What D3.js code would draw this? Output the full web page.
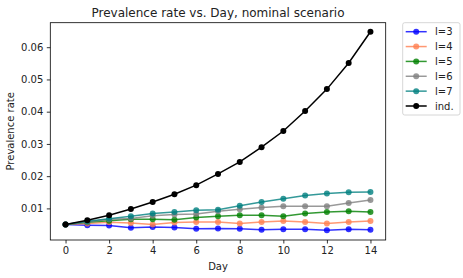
<!DOCTYPE html>
<html>
<head>
<meta charset="utf-8">
<script src="https://cdn.jsdelivr.net/npm/d3@7"></script>
<style>
  body { margin: 0; background: #fff; }
  text { font-family: "DejaVu Sans", sans-serif; fill: #222; }
</style>
</head>
<body>
<script>
var days = [0, 1, 2, 3, 4, 5, 6, 7, 8, 9, 10, 11, 12, 13, 14];
var xTicks = [0, 2, 4, 6, 8, 10, 12, 14];
var yTicks = [0.01, 0.02, 0.03, 0.04, 0.05, 0.06];

var l3 = [0.0050, 0.0048, 0.0047, 0.0040, 0.0042, 0.0041, 0.0037, 0.0038, 0.0037, 0.0034, 0.0035, 0.0035, 0.0032, 0.0035, 0.0034];
var l4 = [0.0050, 0.0053, 0.0057, 0.0055, 0.0050, 0.0056, 0.0058, 0.0058, 0.0053, 0.0058, 0.0061, 0.0058, 0.0053, 0.0058, 0.0061];
var l5 = [0.0050, 0.0057, 0.0062, 0.0066, 0.0066, 0.0065, 0.0072, 0.0076, 0.0079, 0.0079, 0.0076, 0.0084, 0.0089, 0.0091, 0.0089];
var l6 = [0.0050, 0.0058, 0.0066, 0.0069, 0.0077, 0.0081, 0.0083, 0.0091, 0.0097, 0.0103, 0.0107, 0.0107, 0.0107, 0.0117, 0.0126];
var l7 = [0.0050, 0.0060, 0.0068, 0.0076, 0.0084, 0.0089, 0.0094, 0.0096, 0.0108, 0.0120, 0.0130, 0.0140, 0.0146, 0.0150, 0.0151];
var ind = [0.0050, 0.0063, 0.0079, 0.0098, 0.0120, 0.0144, 0.0172, 0.0207, 0.0244, 0.0290, 0.0340, 0.0402, 0.0470, 0.0551, 0.0648];

var seriesNames = ["l=3", "l=4", "l=5", "l=6", "l=7", "ind."];
var seriesColors = ["blue", "coral", "green", "grey", "teal", "black"];
var seriesValues = [l3, l4, l5, l6, l7, ind];

var margin = { top: 22.7, left: 50.3 },
  width = 385.7 - 50.3,
  height = 240 - 22.7;

var svg = d3.select("body").append("svg")
  .attr("width", 463)
  .attr("height", 278);

var chart = svg.append("g")
  .attr("transform", "translate(" + margin.left + "," + margin.top + ")");

var x = d3.scaleLinear().domain([-0.7, 14.7]).range([0, width]);
var y = d3.scaleLinear().domain([0.0002, 0.0676]).range([height, 0]);

// axes
var xAxis = chart.append("g")
  .attr("transform", "translate(0," + height + ")")
  .call(d3.axisBottom(x).tickValues(xTicks).tickSize(3.5).tickPadding(3.5));
var yAxis = chart.append("g")
  .call(d3.axisLeft(y).tickValues(yTicks).tickSize(3.5).tickPadding(3.5)
    .tickFormat(d3.format(".2f")));

[xAxis, yAxis].forEach(function (a) {
  a.select(".domain").remove();
  a.selectAll("line").attr("stroke", "#000").attr("stroke-width", 0.8);
  a.selectAll("text").style("font-family", "DejaVu Sans").style("font-size", "10px").attr("fill", "#222");
});

var line = d3.line()
  .x(function (d, i) { return x(days[i]); })
  .y(function (d) { return y(d); });

seriesValues.forEach(function (vals, k) {
  var op = k === 5 ? 1 : 0.8;
  chart.append("path")
    .datum(vals)
    .attr("d", line)
    .attr("fill", "none")
    .attr("stroke", seriesColors[k])
    .attr("stroke-width", 1.5)
    .attr("opacity", op);
  chart.selectAll(".pt" + k)
    .data(vals)
    .enter().append("circle")
    .attr("cx", function (d, i) { return x(days[i]); })
    .attr("cy", function (d) { return y(d); })
    .attr("r", 3)
    .attr("fill", seriesColors[k])
    .attr("opacity", op);
});

// frame
chart.append("rect")
  .attr("width", width)
  .attr("height", height)
  .attr("fill", "none")
  .attr("stroke", "#000")
  .attr("stroke-width", 0.8);

// title and labels
svg.append("text")
  .attr("x", margin.left + width / 2)
  .attr("y", 17)
  .attr("text-anchor", "middle")
  .style("font-size", "12px")
  .text("Prevalence rate vs. Day, nominal scenario");

svg.append("text")
  .attr("x", margin.left + width / 2)
  .attr("y", 270)
  .attr("text-anchor", "middle")
  .style("font-size", "10px")
  .text("Day");

svg.append("text")
  .attr("transform", "translate(13.5," + (margin.top + height / 2) + ") rotate(-90)")
  .attr("text-anchor", "middle")
  .style("font-size", "10px")
  .text("Prevalence rate");

// legend
var legend = svg.append("g");
legend.append("rect")
  .attr("x", 402.7)
  .attr("y", 22.7)
  .attr("width", 57.3)
  .attr("height", 92.3)
  .attr("rx", 2)
  .attr("fill", "#fff")
  .attr("stroke", "#ccc")
  .attr("stroke-width", 0.8);

var items = legend.selectAll(".legend")
  .data(seriesNames)
  .enter().append("g")
  .attr("class", "legend")
  .attr("transform", function (d, i) { return "translate(0," + (31.7 + i * 14.86) + ")"; });

items.append("line")
  .attr("x1", 405.7).attr("x2", 426.7)
  .attr("stroke", function (d, i) { return seriesColors[i]; })
  .attr("stroke-width", 1.5)
  .attr("opacity", function (d, i) { return i === 5 ? 1 : 0.8; });
items.append("circle")
  .attr("cx", 416.2)
  .attr("r", 3)
  .attr("fill", function (d, i) { return seriesColors[i]; })
  .attr("opacity", function (d, i) { return i === 5 ? 1 : 0.8; });
items.append("text")
  .attr("x", 435)
  .attr("dy", "0.35em")
  .style("font-size", "10px")
  .text(function (d) { return d; });
</script>
</body>
</html>
